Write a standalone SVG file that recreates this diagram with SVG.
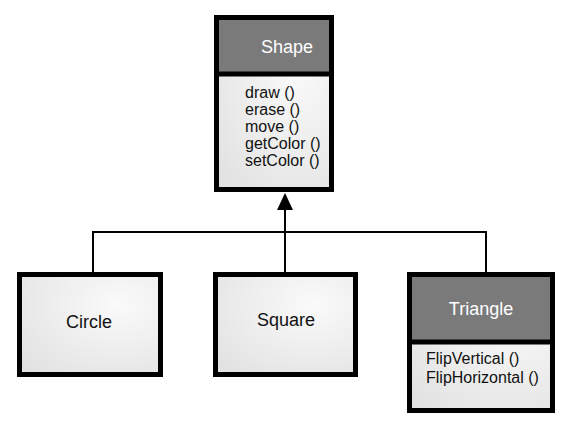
<svg xmlns="http://www.w3.org/2000/svg" width="568" height="427" viewBox="0 0 568 427">
<defs>
<radialGradient id="body" cx="0.7" cy="0.3" r="0.9">
<stop offset="0" stop-color="#fafafa"/>
<stop offset="1" stop-color="#e2e2e2"/>
</radialGradient>
<style>
.box{stroke:#000;stroke-width:5;fill:url(#body)}
.hdr{fill:#7a7a7b}
.div{stroke:#000;stroke-width:5}
.t{font-family:"Liberation Sans",Arial,sans-serif;font-size:16px;fill:#111}
.h{font-family:"Liberation Sans",Arial,sans-serif;font-size:18px;fill:#fff;text-anchor:middle}
.c{text-anchor:middle;font-size:18px}
.ln{stroke:#000;stroke-width:2;fill:none}
.ah{fill:#000}
</style>
</defs>
<rect width="568" height="427" fill="#fff"/>
<g id="connectors">
<path class="ln" d="M93,272 V232 H486 V272"/>
<path class="ln" d="M285,272 V208"/>
<polygon class="ah" points="285,193 293,210 277,210"/>
</g>
<g id="shape">
<rect class="box" x="216.5" y="17.5" width="115" height="172"/>
<rect class="hdr" x="219" y="20" width="110" height="54"/>
<line class="div" x1="216.5" y1="74" x2="331.5" y2="74"/>
<text class="h" x="287" y="53">Shape</text>
<text class="t" x="245" y="98">draw ()</text>
<text class="t" x="245" y="115">erase ()</text>
<text class="t" x="245" y="132">move ()</text>
<text class="t" x="245" y="149">getColor ()</text>
<text class="t" x="245" y="166">setColor ()</text>
</g>
<g id="circle">
<rect class="box" x="19.5" y="274.5" width="141" height="100"/>
<text class="t c" x="89" y="328">Circle</text>
</g>
<g id="square">
<rect class="box" x="215.5" y="274.5" width="140" height="100"/>
<text class="t c" x="286" y="326">Square</text>
</g>
<g id="triangle">
<rect class="box" x="409.5" y="274.5" width="143" height="136"/>
<rect class="hdr" x="412" y="277" width="138" height="65"/>
<line class="div" x1="409.5" y1="342" x2="552.5" y2="342"/>
<text class="h" x="481" y="315">Triangle</text>
<text class="t" x="426" y="364">FlipVertical ()</text>
<text class="t" x="426" y="383">FlipHorizontal ()</text>
</g>
</svg>
